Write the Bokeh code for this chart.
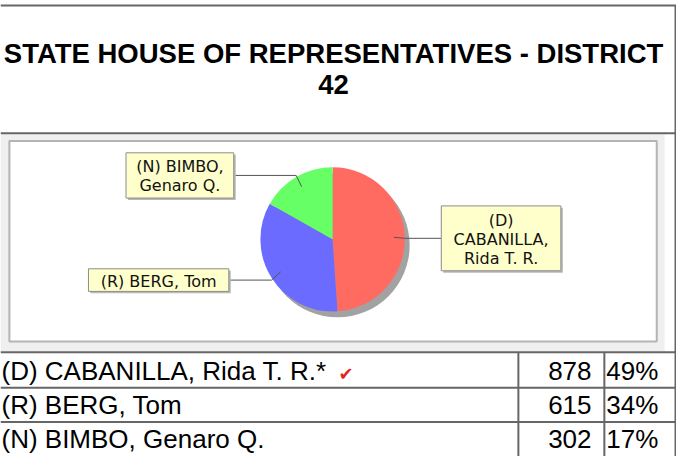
import math
from bokeh.plotting import figure
from bokeh.models import Range1d, ColumnDataSource
from bokeh.embed import file_html
from bokeh.resources import INLINE
from bokeh.core.properties import value

# ---------------- data ----------------
title_lines = ["STATE HOUSE OF REPRESENTATIVES - DISTRICT", "42"]
candidates = ["(D) CABANILLA, Rida T. R.", "(R) BERG, Tom", "(N) BIMBO, Genaro Q."]
votes = [878, 615, 302]
pct_labels = ["49%", "34%", "17%"]
winner_flags = [True, False, False]
slice_colors = ["#ff6b61", "#6b6bff", "#66ff66"]
pie_label_lines = [["(D)", "CABANILLA,", "Rida T. R."], ["(R) BERG, Tom"], ["(N) BIMBO,", "Genaro Q."]]

# ---------------- layout (coordinates in reference-image pixels) ----------------
REF_W, REF_H = 684, 464


def Y(py):
    return REF_H - py


p = figure(width=676, height=456, x_range=Range1d(0, REF_W), y_range=Range1d(0, REF_H),
           output_backend="svg", toolbar_location=None, min_border=0,
           x_axis_location=None, y_axis_location=None)
p.grid.visible = False
p.outline_line_color = None
p.background_fill_color = "white"
p.border_fill_color = "white"

# chart panel background
p.quad(left=[0], right=[672], top=[Y(136)], bottom=[Y(357)], fill_color="#efefef", line_color=None)
p.quad(left=[9], right=[664], top=[Y(143)], bottom=[Y(347)], fill_color="white",
       line_color="#b4b4b4", line_width=2)

# table / box borders
hy = [5, 135, 358, 394, 429]
p.segment(x0=[0] * len(hy), y0=[Y(v) for v in hy], x1=[REF_W] * len(hy), y1=[Y(v) for v in hy],
          line_color="#666666", line_width=2)
vx = [683, 524, 611]
vy0 = [5, 358, 358]
vy1 = [REF_H, REF_H, REF_H]
p.segment(x0=vx, y0=[Y(v) for v in vy0], x1=vx, y1=[Y(v) for v in vy1], line_color="#666666", line_width=2)

# title
title_mid = [53.5, 85]
for k, line in enumerate(title_lines):
    p.text(x=[337], y=[Y(title_mid[k])], text=[line], text_align="center", text_baseline="middle",
           text_font=value("Liberation Sans"), text_font_style="bold", text_font_size="27.5px",
           text_color="black")

# pie
cx, cy, r = 336, 243, 73
total = sum(votes)
cum = [0]
for v in votes:
    cum.append(cum[-1] + v)
starts = [math.pi / 2 - 2 * math.pi * cum[i] / total for i in range(len(votes))]
ends = [math.pi / 2 - 2 * math.pi * cum[i + 1] / total for i in range(len(votes))]

p.circle(x=[cx + 5], y=[Y(cy + 6)], radius=r, fill_color="#a2a2a2", line_color=None)
src = ColumnDataSource(dict(start=starts, end=ends, color=slice_colors))
p.wedge(x=cx, y=Y(cy), radius=r, start_angle="start", end_angle="end", direction="clock",
        fill_color="color", line_color=None, source=src)

# label boxes (left, right, top, bottom) and leaders
label_boxes = [(446, 567, 209, 275), (89, 231, 273, 296), (127, 236, 155, 201)]
lead_xs, lead_ys = [], []
for i, (l, rr, t, b) in enumerate(label_boxes):
    mid = (starts[i] + ends[i]) / 2
    ex, ey = cx + r * math.cos(mid), cy - r * math.sin(mid)
    ix, iy = cx + 0.85 * r * math.cos(mid), cy - 0.85 * r * math.sin(mid)
    by = (t + b) / 2
    ax = l if ex > cx else rr
    lead_xs.append([ax, ex, ix])
    lead_ys.append([Y(by), Y(by), Y(iy)])
p.multi_line(xs=lead_xs, ys=lead_ys, line_color="#555555", line_width=1)

for i, (l, rr, t, b) in enumerate(label_boxes):
    p.quad(left=[l + 2], right=[rr + 2], top=[Y(t + 2)], bottom=[Y(b + 2)], fill_color="#b8b8b8", line_color=None)
    p.quad(left=[l], right=[rr], top=[Y(t)], bottom=[Y(b)], fill_color="#ffffcc", line_color="#8c8c8c", line_width=1)
    lines = pie_label_lines[i]
    n = len(lines)
    bcx, bcy = (l + rr) / 2, (t + b) / 2
    for k, txt in enumerate(lines):
        p.text(x=[bcx], y=[Y(bcy + 1 + (k - (n - 1) / 2) * 19.5)], text=[txt], text_align="center",
               text_baseline="middle", text_font=value("DejaVu Sans"), text_font_size="16px",
               text_color="#111111")

# table rows
row_mid = [376.5, 411.5, 446.5]
for i, name in enumerate(candidates):
    label = name + ("*" if winner_flags[i] else "")
    p.text(x=[1], y=[Y(row_mid[i])], text=[label], text_align="left",
           text_baseline="middle", text_font=value("Liberation Sans"), text_font_size="26px",
           text_color="black")
    p.text(x=[598], y=[Y(row_mid[i])], text=[str(votes[i])], text_align="right",
           text_baseline="middle", text_font=value("Liberation Sans"), text_font_size="26px",
           text_color="black")
    p.text(x=[613], y=[Y(row_mid[i])], text=[pct_labels[i]], text_align="left",
           text_baseline="middle", text_font=value("Liberation Sans"), text_font_size="26px",
           text_color="black")
    if winner_flags[i]:
        p.text(x=[342], y=[Y(row_mid[i] + 3)], text=["\u2714"], text_align="left",
               text_baseline="middle", text_font=value("DejaVu Sans"), text_font_size="18px",
               text_color="#e8231f")

open("out.html", "w").write(file_html(p, INLINE))
